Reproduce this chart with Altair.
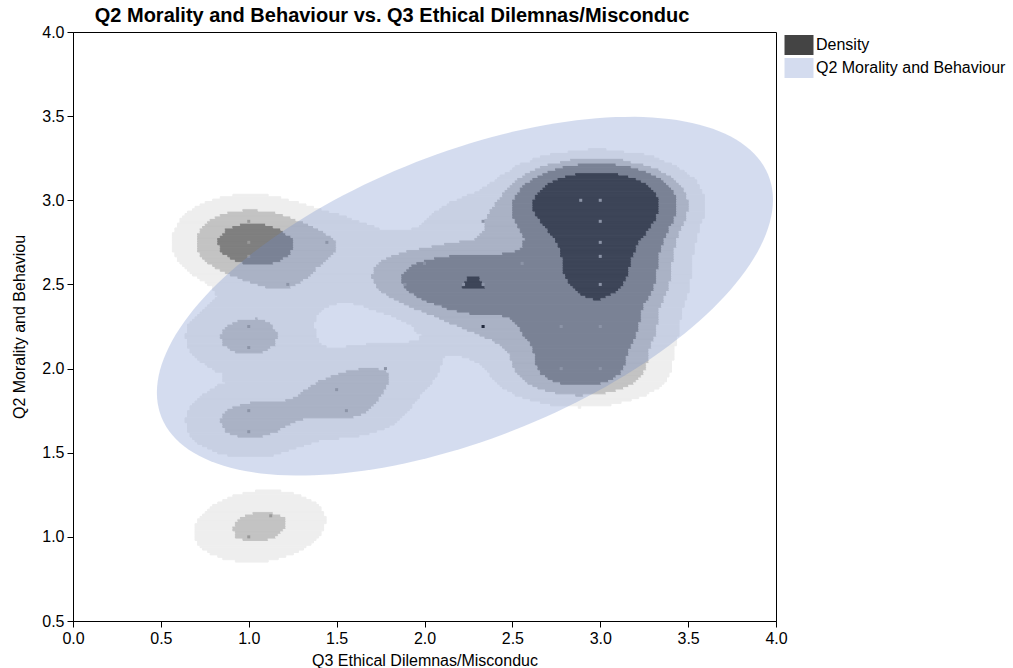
import numpy as np
import pandas as pd
import altair as alt

# ---- observed responses (Q3 score, Q2 score, number of respondents) ----
q3 = [3.0, 2.8889, 3.0, 3.0, 3.0, 3.0, 3.0, 2.7778, 2.7778, 3.0,
      2.3333, 2.5556, 2.2222, 2.3333, 2.3333, 2.0, 1.8889,
      1.0, 1.0, 1.0, 1.4444, 1.2222, 1.0, 1.0,
      1.0, 1.0, 1.5, 1.5556, 1.7778, 1.0, 1.125]
q2 = [3.0, 3.0, 2.875, 2.75, 2.6667, 2.5, 2.25, 2.25, 2.0, 2.0,
      2.875, 2.625, 2.5, 2.5, 2.25, 2.625, 2.5,
      2.875, 2.75, 2.6667, 2.75, 2.5, 2.25, 2.125,
      1.75, 1.625, 1.875, 1.75, 2.0, 1.0, 1.125]
n_resp = [14, 3, 4, 3, 3, 5, 3, 2, 2, 2,
          1, 1, 2, 3, 1, 1, 1,
          1, 2, 1, 1, 1, 1, 1,
          1, 1, 1, 1, 1, 1, 1]
dark_q3 = [2.3333]
dark_q2 = [2.25]

# confidence ellipse of the two scores (mean, covariance, number of std)
ell_mean = [2.23, 2.43]
ell_cov = [[0.768, 0.251], [0.251, 0.284]]
ell_nstd = 2.0

kde_bw_x = 0.22
kde_bw_y = 0.11
density_levels = [0.45, 1.3, 2.4, 5.4]
band_colors = ["#eeeeee", "#c3c3c3", "#7f7f7f", "#272727"]

legend_labels = ["Density", "Q2 Morality and Behaviour"]
legend_colors = ["#444444", "#d4dcef"]

title_text = "Q2 Morality and Behaviour vs. Q3 Ethical Dilemnas/Misconduc"
x_title = "Q3 Ethical Dilemnas/Misconduc"
y_title = "Q2 Morality and Behaviou"

# ---- kernel density on a grid ----
X = np.array(q3, float)
Y = np.array(q2, float)
W = np.array(n_resp, float)
gx = np.linspace(0.3, 3.8, 62)
gy = np.linspace(0.6, 3.4, 50)
GX, GY = np.meshgrid(gx, gy)
dens = np.zeros_like(GX)
for x0, y0, w0 in zip(X, Y, W):
    m = ((GX - x0) / kde_bw_x) ** 2 + ((GY - y0) / kde_bw_y) ** 2
    dens += w0 * np.exp(-0.5 * m)

fx = np.linspace(gx[0], gx[-1], 4 * (len(gx) - 1) + 1)
fy = np.linspace(gy[0], gy[-1], 4 * (len(gy) - 1) + 1)
tmp = np.array([np.interp(fx, gx, row) for row in dens])
fine = np.array([np.interp(fy, gy, col) for col in tmp.T]).T
band = np.digitize(fine, density_levels) - 1

sx = fx[1] - fx[0]
sy = fy[1] - fy[0]
rects = []
for j, yc in enumerate(fy):
    b = band[j]
    i = 0
    while i < len(fx):
        if b[i] < 0:
            i += 1
            continue
        k = i
        while k + 1 < len(fx) and b[k + 1] == b[i]:
            k += 1
        rects.append(dict(x=fx[i] - sx / 2, x2=fx[k] + sx / 2,
                          y=yc - sy / 2, y2=yc + sy / 2,
                          fill=band_colors[b[i]]))
        i = k + 1
rect_df = pd.DataFrame(rects)

# ---- ellipse as area between lower and upper boundary ----
S = np.array(ell_cov)
A = np.linalg.inv(S)
a, b2, c = A[0, 0], A[0, 1], A[1, 1]
sdx = ell_nstd * np.sqrt(S[0, 0])
t = np.linspace(np.pi, 0, 90)
ddx = sdx * np.cos(t)
disc = np.clip(b2 * b2 * ddx * ddx - c * (a * ddx * ddx - ell_nstd ** 2), 0, None)
ylo = ell_mean[1] + (-b2 * ddx - np.sqrt(disc)) / c
yhi = ell_mean[1] + (-b2 * ddx + np.sqrt(disc)) / c
ell_df = pd.DataFrame(dict(x=ell_mean[0] + ddx, ylo=ylo, yhi=yhi))

pts_df = pd.DataFrame(dict(x=q3, y=q2))
dark_df = pd.DataFrame(dict(x=dark_q3, y=dark_q2))
leg_df = pd.DataFrame(dict(label=legend_labels))

xs = alt.Scale(domain=[0, 4], nice=False)
ys = alt.Scale(domain=[0.5, 4], nice=False)
xax = alt.Axis(values=[0, 0.5, 1, 1.5, 2, 2.5, 3, 3.5, 4], format=".1f", title=x_title)
yax = alt.Axis(values=[0.5, 1, 1.5, 2, 2.5, 3, 3.5, 4], format=".1f", title=y_title)

dens_layer = alt.Chart(rect_df).mark_rect(strokeWidth=1).encode(
    x=alt.X("x:Q", scale=xs, axis=xax),
    x2="x2:Q",
    y=alt.Y("y:Q", scale=ys, axis=yax),
    y2="y2:Q",
    fill=alt.Fill("fill:N", scale=None),
    stroke=alt.Stroke("fill:N", scale=None),
)

pts_layer = alt.Chart(pts_df).mark_square(size=9, color="#999999", opacity=1).encode(
    x="x:Q", y="y:Q")
dark_layer = alt.Chart(dark_df).mark_square(size=9, color="#000000", opacity=1).encode(
    x="x:Q", y="y:Q")

ell_layer = alt.Chart(ell_df).mark_area(color="#6f8aca", opacity=0.3).encode(
    x="x:Q", y="ylo:Q", y2="yhi:Q")

leg_layer = alt.Chart(leg_df).mark_square(opacity=0).encode(
    color=alt.Color("label:N",
                    scale=alt.Scale(domain=legend_labels, range=legend_colors),
                    legend=alt.Legend(title=None, orient="none", legendX=716, legendY=3,
                                      symbolType="M-1.45,-1H1.45V1H-1.45Z", symbolSize=400,
                                      symbolOpacity=1, symbolStrokeWidth=0,
                                      labelFontSize=16, labelFont="Liberation Sans",
                                      labelColor="black", labelOffset=7, labelLimit=0,
                                      rowPadding=3))
)

chart = alt.layer(dens_layer, pts_layer, dark_layer, ell_layer, leg_layer).properties(
    width=703, height=589,
    title=alt.Title(title_text, anchor="start", dx=83, dy=10, offset=8, fontSize=20,
                    font="Liberation Sans", fontWeight="bold", color="black"),
    autosize=alt.AutoSizeParams(type="none"),
    padding={"left": 73, "top": 32, "right": 237, "bottom": 47},
).configure_view(stroke="black", strokeWidth=1).configure_axis(
    grid=False, labelFont="Liberation Sans", labelFontSize=16, labelColor="black",
    titleFont="Liberation Sans", titleFontSize=16, titleFontWeight="normal",
    titleColor="black", domainColor="black", tickColor="black", tickSize=6,
    labelPadding=3, labelFlush=False, labelOverlap=False,
).configure_axisY(titlePadding=14).configure_axisX(titlePadding=6)

chart.save("out.html", embed_options={"renderer": "svg", "actions": False})
